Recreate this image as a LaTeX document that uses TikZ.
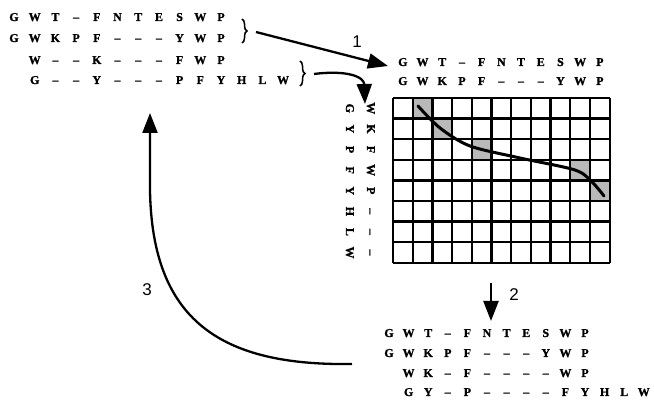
\documentclass[tikz,border=0pt]{standalone}
\usepackage{fontspec}
\setmainfont{Liberation Serif}
\newfontfamily\seqfont{Liberation Serif}[BoldFeatures={FakeBold=1.2}]
\newfontfamily\numfont{Liberation Sans}
\usetikzlibrary{arrows.meta,decorations.pathreplacing}
\begin{document}
\begin{tikzpicture}[x=1pt,y=-1pt,
  seqch/.style={inner sep=0pt, text height=8pt, text depth=0pt, font=\seqfont\bfseries\fontsize{12}{14}\selectfont},
  vch/.style={seqch, rotate=-90},
  numlbl/.style={font=\numfont\fontsize{17}{19}\selectfont, inner sep=0pt},
  bigarrow/.style={line width=2.3pt, -{Triangle[length=20pt,width=15pt]}},
  gridline/.style={line width=2.3pt},
  cellshade/.style={fill=gray!55},
  bracestyle/.style={decorate, decoration={brace, amplitude=5pt}, line width=1.5pt}]
\useasboundingbox (0,0) rectangle (654,403);

% ---- top-left alignment ----
\foreach \ch [count=\i from 0] in {G,W,T,–,F,N,T,E,S,W,P}
  \node[seqch] (tl1-\i) at (14+\i*20.7,17) {\ch};
\foreach \ch [count=\i from 0] in {G,W,K,P,F,–,–,–,Y,W,P}
  \node[seqch] (tl2-\i) at (14+\i*20.7,38) {\ch};
\foreach \ch [count=\i from 1] in {W,–,–,K,–,–,–,F,W,P}
  \node[seqch] (tl3-\i) at (14+\i*20.7,60) {\ch};
\foreach \ch [count=\i from 1] in {G,–,–,Y,–,–,–,P,F,Y,H,L,W}
  \node[seqch] (tl4-\i) at (14+\i*20.7,80) {\ch};

% braces
\draw[bracestyle] (242,19) -- (242,43);
\coordinate (b1) at (256,32);
\draw[bracestyle] (300,61) -- (300,86);
\coordinate (b2) at (314,74);

% ---- top sequences of the matrix ----
\foreach \ch [count=\i from 0] in {G,W,T,–,F,N,T,E,S,W,P}
  \node[seqch] (h1-\i) at (402.85+\i*19.7,62) {\ch};
\foreach \ch [count=\i from 0] in {G,W,K,P,F,–,–,–,Y,W,P}
  \node[seqch] (h2-\i) at (402.85+\i*19.7,81) {\ch};

% ---- vertical sequences ----
\foreach \ch [count=\i from 0] in {G,Y,P,F,Y,H,L,W}
  \node[vch] (v1-\i) at (350,108.3+\i*20.6) {\ch};
\foreach \ch [count=\i from 0] in {W,K,F,W,P,–,–,–}
  \node[vch] (v2-\i) at (371,108.3+\i*20.6) {\ch};

% ---- matrix ----
\foreach \r/\c in {1/2,2/3,3/5,4/10,5/11}
  \fill[cellshade] (393+\c*19.7-19.7,98+\r*20.6-20.6) rectangle (393+\c*19.7,98+\r*20.6);
\foreach \c in {0,...,11}
  \draw[gridline] (393+\c*19.7,98) -- (393+\c*19.7,263);
\foreach \r in {0,...,8}
  \draw[gridline] (393,98+\r*20.6) -- (610,98+\r*20.6);
\draw[line width=3pt, line cap=round] plot[smooth] coordinates
  {(418,106) (440,128) (470,146) (520,158) (575,170) (592,182) (604,196)};

% ---- bottom alignment ----
\foreach \ch [count=\i from 0] in {G,W,T,–,F,N,T,E,S,W,P}
  \node[seqch] (bt1-\i) at (389+\i*19.6,333) {\ch};
\foreach \ch [count=\i from 0] in {G,W,K,P,F,–,–,–,Y,W,P}
  \node[seqch] (bt2-\i) at (389+\i*19.6,353) {\ch};
\foreach \ch [count=\i from 1] in {W,K,–,F,–,–,–,–,W,P}
  \node[seqch] (bt3-\i) at (389+\i*19.6,373) {\ch};
\foreach \ch [count=\i from 1] in {G,Y,–,P,–,–,–,–,F,Y,H,L,W}
  \node[seqch] (bt4-\i) at (389+\i*19.6,392) {\ch};

% ---- arrows ----
\coordinate (a1tip) at (388,66);
\draw[bigarrow] (b1) -- (a1tip);
\node[numlbl] (n1) at (357,42) {1};

\coordinate (c2tip) at (365,104);
\draw[bigarrow] (b2) .. controls (345,70) and (364,76) .. (c2tip);

\coordinate (a2top) at (491,283);
\coordinate (a2tip) at (491,321);
\draw[bigarrow] (a2top) -- (a2tip);
\node[numlbl] (n2) at (514,295) {2};

\coordinate (a3start) at (352,364);
\coordinate (a3tip) at (150,113);
\draw[bigarrow] (a3start) .. controls (220,366) and (152,320) .. (150,190) -- (a3tip);
\node[numlbl] (n3) at (147,290) {3};
\end{tikzpicture}
\end{document}
